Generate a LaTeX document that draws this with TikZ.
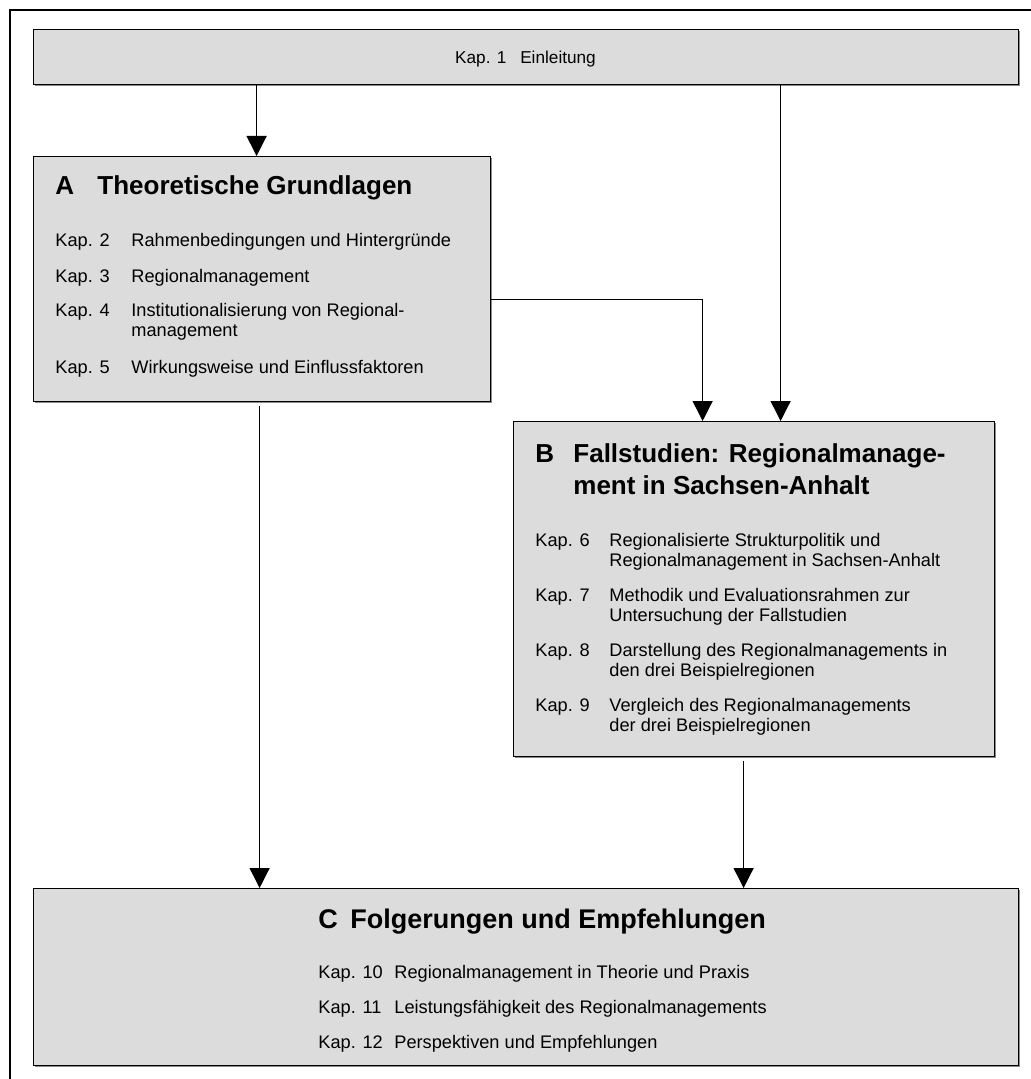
\documentclass[tikz,border=0pt]{standalone}
\usepackage{fontspec}
\setmainfont{Liberation Sans}
\usepackage{xcolor}
\usepackage{tikz}
\usetikzlibrary{arrows.meta,positioning,shadows,calc}
\definecolor{inkK}{HTML}{000000}
\definecolor{lGry}{HTML}{DCDCDC}
\definecolor{cShd}{HTML}{8A8A8A}

\newcommand{\twolines}[2]{\begin{tabular}[t]{@{}l@{}}#1\\#2\end{tabular}}

\begin{document}
\begin{tikzpicture}[x=0.5pt,y=-0.5pt,
  part/.style={draw=inkK, line width=0.6pt, fill=lGry, anchor=north west, inner sep=0pt,
    drop shadow={shadow xshift=0.6pt, shadow yshift=-0.6pt, fill=cShd, opacity=1}},
  kaptxt/.style={anchor=base west, inner sep=0pt, font=\fontsize{9.1}{10}\selectfont, text=inkK},
  kapsmall/.style={kaptxt, font=\fontsize{8.6}{10}\selectfont},
  headtxt/.style={anchor=base west, inner sep=0pt, font=\fontsize{13}{16}\selectfont\bfseries, text=inkK},
  headwide/.style={headtxt, font=\fontsize{13.5}{16}\selectfont\bfseries},
  flow/.style={draw=inkK, line width=0.65pt, -{Triangle[length=10pt,width=10pt]}}]

  \useasboundingbox (0,0) rectangle (1030,1079);
  % outer frame
  \draw[inkK, line width=0.75pt] (10,1100) -- (10,10) -- (1050,10);

  % Einleitung
  \node[part, minimum width=492.5pt, minimum height=27.5pt] (kap1) at (33,29) {};
  \node[kapsmall, anchor=base] (kap1t) at (525.5,64) {Kap. 1\hspace{0.8em}Einleitung};

  % Teil A
  \node[part, minimum width=228.5pt, minimum height=122.5pt] (partA) at (33,156) {};
  \node[headtxt] (headA) at (55,195) {A};
  \node[headtxt] (titleA) at (97,195) {Theoretische Grundlagen};
  \foreach \k/\y/\t in {2/247/{Rahmenbedingungen und Hintergründe},
                        3/283/{Regionalmanagement},
                        4/317/{\twolines{Institutionalisierung von Regional-}{management}},
                        5/373/{Wirkungsweise und Einflussfaktoren}} {
    \node[kaptxt] (kA\k) at (55,\y) {Kap. \k};
    \node[kaptxt] (tA\k) at (131,\y) {\t};
  }

  % Teil B
  \node[part, minimum width=240.5pt, minimum height=167.5pt] (partB) at (513,421) {};
  \node[headtxt] (headB) at (535,462) {B};
  \node[headtxt] (titleB) at (573,462) {\twolines{Fallstudien: Regionalmanage-}{ment in Sachsen-Anhalt}};
  \foreach \k/\y/\t in {6/546/{\twolines{Regionalisierte Strukturpolitik und}{Regionalmanagement in Sachsen-Anhalt}},
                        7/601/{\twolines{Methodik und Evaluationsrahmen zur}{Untersuchung der Fallstudien}},
                        8/656/{\twolines{Darstellung des Regionalmanagements in}{den drei Beispielregionen}},
                        9/711/{\twolines{Vergleich des Regionalmanagements}{der drei Beispielregionen}}} {
    \node[kaptxt] (kB\k) at (535,\y) {Kap. \k};
    \node[kaptxt] (tB\k) at (609,\y) {\t};
  }

  % Teil C
  \node[part, minimum width=492.5pt, minimum height=88.5pt] (partC) at (33,888) {};
  \node[headwide] (headC) at (318,928) {C};
  \node[headwide] (titleC) at (350,928) {Folgerungen und Empfehlungen};
  \foreach \k/\y/\t in {10/978/{Regionalmanagement in Theorie und Praxis},
                        11/1013/{Leistungsfähigkeit des Regionalmanagements},
                        12/1048/{Perspektiven und Empfehlungen}} {
    \node[kaptxt] (kC\k) at (318,\y) {Kap. \k};
    \node[kaptxt] (tC\k) at (394,\y) {\t};
  }

  % Pfeile
  \draw[flow] ([xshift=-2.75pt]kap1.south -| partA.north) -- ([xshift=-2.75pt]partA.north);
  \draw[flow] ([xshift=13.25pt]partB.north |- kap1.south) -- ([xshift=13.25pt]partB.north);
  \draw[flow] ([yshift=-10.25pt]partA.east) -| ([xshift=-25.75pt]partB.north);
  \draw[flow, shorten <=2pt] ([xshift=-1.25pt]partA.south) -- ([xshift=-1.25pt]partA.south |- partC.north);
  \draw[flow, shorten <=2pt] ([xshift=-5.25pt]partB.south) -- ([xshift=-5.25pt]partB.south |- partC.north);
\end{tikzpicture}
\end{document}
